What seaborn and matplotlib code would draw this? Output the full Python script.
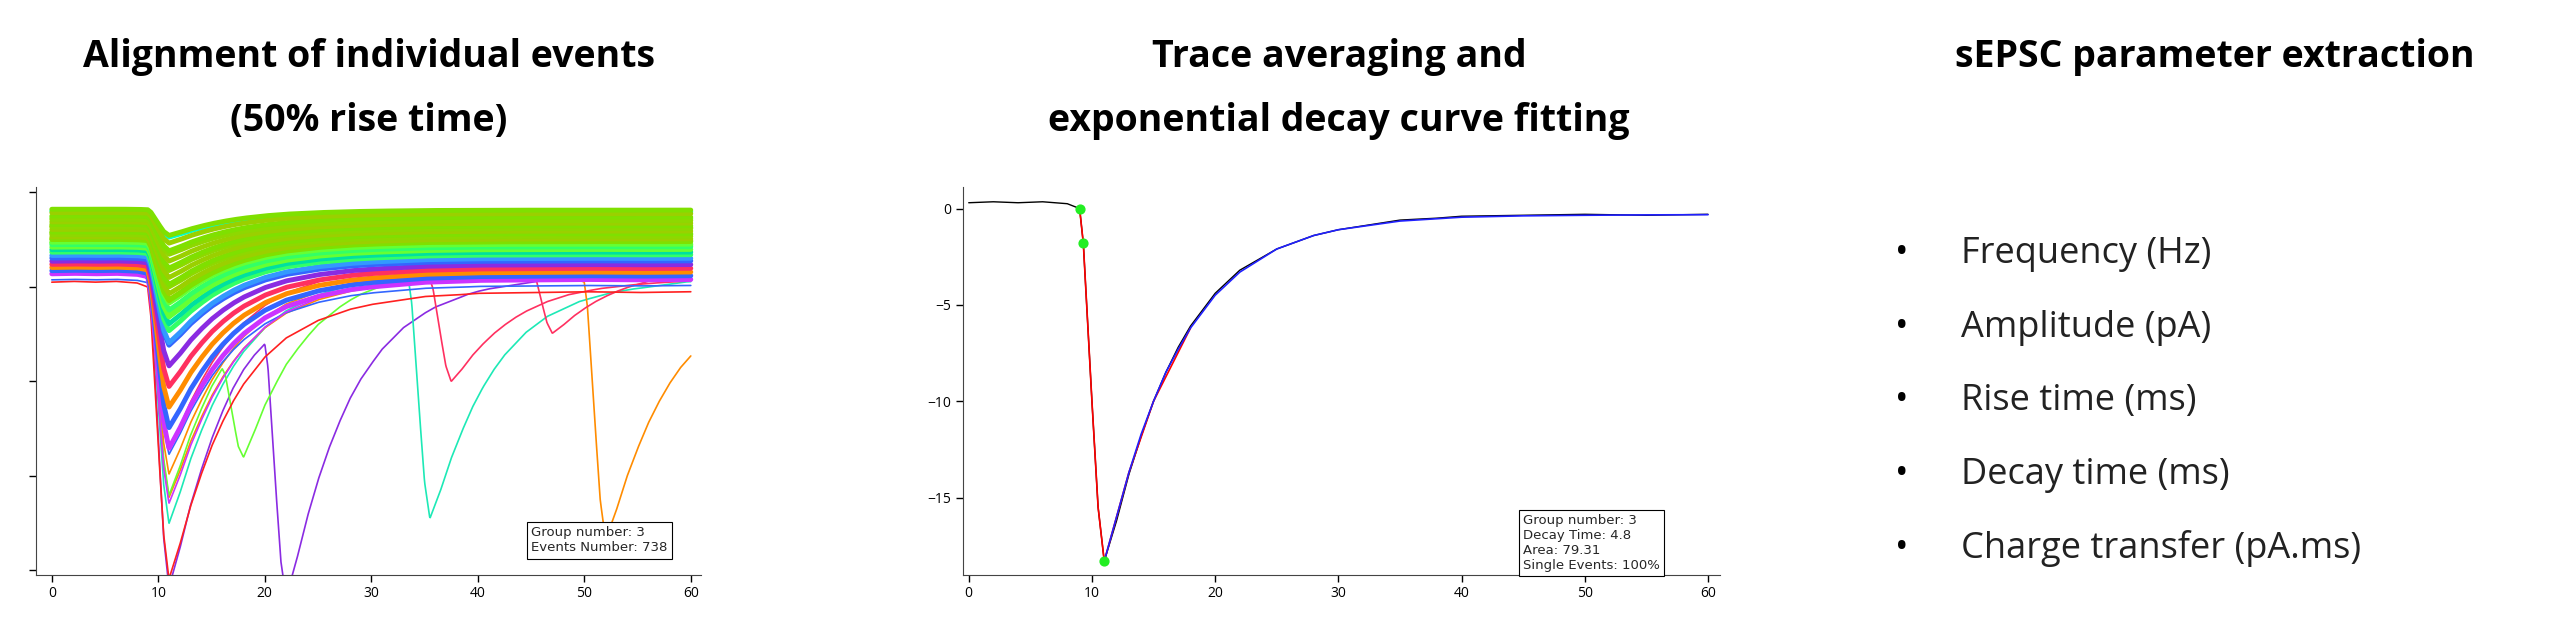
import numpy as np
import matplotlib
matplotlib.use("Agg")
import matplotlib.pyplot as plt
import seaborn as sns

sns.set_style("white")
plt.rcParams["font.family"] = ["Open Sans", "DejaVu Sans"]

# averaged sEPSC trace (ms, pA)
avg_t = [0, 2, 4, 6, 8, 9, 9.3, 10, 10.5, 11, 12, 13, 14, 15, 16, 17, 18, 20, 22, 25,
         28, 30, 33, 35, 38, 40, 45, 50, 55, 60]
avg_y = [0.3, 0.35, 0.3, 0.35, 0.25, 0.0, -1.8, -10.0, -15.5, -18.3, -16.2, -13.8, -11.8,
         -10.0, -8.5, -7.2, -6.1, -4.4, -3.2, -2.1, -1.4, -1.1, -0.8, -0.6, -0.5, -0.4,
         -0.35, -0.3, -0.35, -0.3]
fit_t = [11, 12, 13, 14, 15, 16, 17, 18, 20, 22, 25, 28, 30, 35, 40, 45, 50, 55, 60]
fit_y = [-18.3, -16.0, -13.7, -11.7, -10.0, -8.5, -7.3, -6.2, -4.5, -3.3, -2.1, -1.4,
         -1.1, -0.65, -0.45, -0.38, -0.35, -0.33, -0.32]
red_t = [9, 9.3, 10, 10.5, 11, 12, 13, 15, 18]
red_y = [0, -1.8, -10, -15.5, -18.3, -16.0, -13.7, -10.0, -6.2]
dots_t = [9.0, 9.3, 11.0]
dots_y = [0.0, -1.8, -18.3]

# aligned individual events: baseline offset, event amplitude, colour
band_offsets = [2.0, 1.6, 1.2, 0.8, 0.5, 0.2, -0.1, -0.4, -0.7, -1.0, -1.3, -1.6, -1.9,
                -2.2, -2.5, -2.8, -3.1, -3.5, 1.8, 1.0, 0.0, -0.8, -1.5, -2.0,
                -3.8, -4.2, -4.6, -5.0, -5.4, -5.8]
band_amps = [3, 3.5, 4, 4, 4.5, 5, 5, 5.5, 6, 6, 6.5, 7, 7, 7.5, 8, 8.5, 9, 10, 3, 4,
             5, 6, 7, 8, 10, 12, 14, 16, 18, 20]
band_colors = ["#7fe000", "#9ad000", "#7fe000", "#8ed800", "#9ad000", "#7fe000",
               "#8ed800", "#9ad000", "#7fe000", "#8ed800", "#9ad000", "#7fe000",
               "#66ff33", "#33ff66", "#66ff33", "#00e0a0", "#33ff66", "#3399ff",
               "#00ffcc", "#66ff33", "#9ad000", "#7fe000", "#8ed800", "#66ff33",
               "#3366ff", "#8a2be2", "#ff3060", "#ff8c00", "#3366ff", "#cc33ff"]
# larger outlier events: offset, amplitude, second event time, second event amplitude
big_offsets = [-4.5, -5.0, -6.0, -4.0, -3.5, -5.5, -7.0, -4.8, -6.5, -5.2]
big_amps = [38, 30, 26, 22, 28, 18, 34, 24, 20, 27]
second_t = [22.0, 35.5, 52.0, 47.0, 18.0, 37.5, 60.0, 60.0, 60.0, 60.0]
second_amp = [32, 28, 30, 8, 14, 12, 0, 0, 0, 0]
big_colors = ["#8a2be2", "#1de9b6", "#ff8c00", "#ff3060", "#66ff33", "#ff3060",
              "#ff2020", "#ff8c00", "#3366ff", "#cc33ff"]

fig = plt.figure(figsize=(25.6, 6.35), dpi=100)

# ---- left panel: aligned events
ax1 = fig.add_axes([0.014, 0.095, 0.26, 0.61])
t = np.linspace(0, 60, 1200)
tmpl_y = np.array(avg_y) / 18.3
base = np.interp(t, avg_t, tmpl_y)
for i, (o, a) in enumerate(zip(big_offsets, big_amps)):
    y = o + a * base
    if second_amp[i]:
        y = y + second_amp[i] * np.interp(t - second_t[i] + 11, avg_t, tmpl_y)
    sns.lineplot(x=t, y=y, ax=ax1, color=big_colors[i], lw=1.2)
order = list(range(len(band_offsets)))[::-1]
for i in order:
    sns.lineplot(x=t, y=band_offsets[i] + band_amps[i] * base, ax=ax1,
                 color=band_colors[i], lw=3.5)
ax1.set_xlim(-1.5, 61)
ax1.set_ylim(-40.5, 4.6)
ax1.set_xticks(range(0, 61, 10))
ax1.set_yticks([4, -7, -18, -29, -40])
ax1.set_yticklabels([])
ax1.text(45, -37.8, "Group number: 3\nEvents Number: 738", fontsize=9.5,
         family="DejaVu Sans", bbox=dict(fc="white", ec="black", lw=0.8, pad=3))

# ---- middle panel: averaged trace and fit
ax2 = fig.add_axes([0.376, 0.095, 0.296, 0.61])
sns.lineplot(x=avg_t, y=avg_y, ax=ax2, color="black", lw=1)
sns.lineplot(x=red_t, y=red_y, ax=ax2, color="red", lw=1.2)
sns.lineplot(x=fit_t, y=fit_y, ax=ax2, color="#2020ff", lw=1.2)
ax2.scatter(dots_t, dots_y, color="#22ee22", s=40, zorder=5)
ax2.set_xlim(-0.5, 61)
ax2.set_ylim(-19.0, 1.1)
ax2.set_xticks(range(0, 61, 10))
ax2.set_yticks([0, -5, -10, -15])
ax2.text(45, -18.7, "Group number: 3\nDecay Time: 4.8\nArea: 79.31\nSingle Events: 100%",
         fontsize=9.5, family="DejaVu Sans",
         bbox=dict(fc="white", ec="black", lw=0.8, pad=3))

for ax in (ax1, ax2):
    sns.despine(ax=ax)
    ax.tick_params(axis="both", direction="out", length=5, width=1, labelsize=10,
                   left=True, bottom=True, colors="black")
    for s in ("left", "bottom"):
        ax.spines[s].set_color("#444444")

# ---- titles and parameter list
title_kw = dict(ha="center", va="center", fontsize=27, fontweight="bold", color="black")
fig.text(0.144, 0.91, "Alignment of individual events", **title_kw)
fig.text(0.144, 0.81, "(50% rise time)", **title_kw)
fig.text(0.523, 0.91, "Trace averaging and", **title_kw)
fig.text(0.523, 0.81, "exponential decay curve fitting", **title_kw)
fig.text(0.865, 0.91, "sEPSC parameter extraction", **title_kw)

params = ["Frequency (Hz)", "Amplitude (pA)", "Rise time (ms)", "Decay time (ms)",
          "Charge transfer (pA.ms)"]
for i, p in enumerate(params):
    yy = 0.6 - i * 0.116
    fig.text(0.743, yy, "•", ha="center", va="center", fontsize=26, color="black")
    fig.text(0.766, yy, p, ha="left", va="center", fontsize=26, color="#222222")

fig.savefig("out.png", dpi=100)
